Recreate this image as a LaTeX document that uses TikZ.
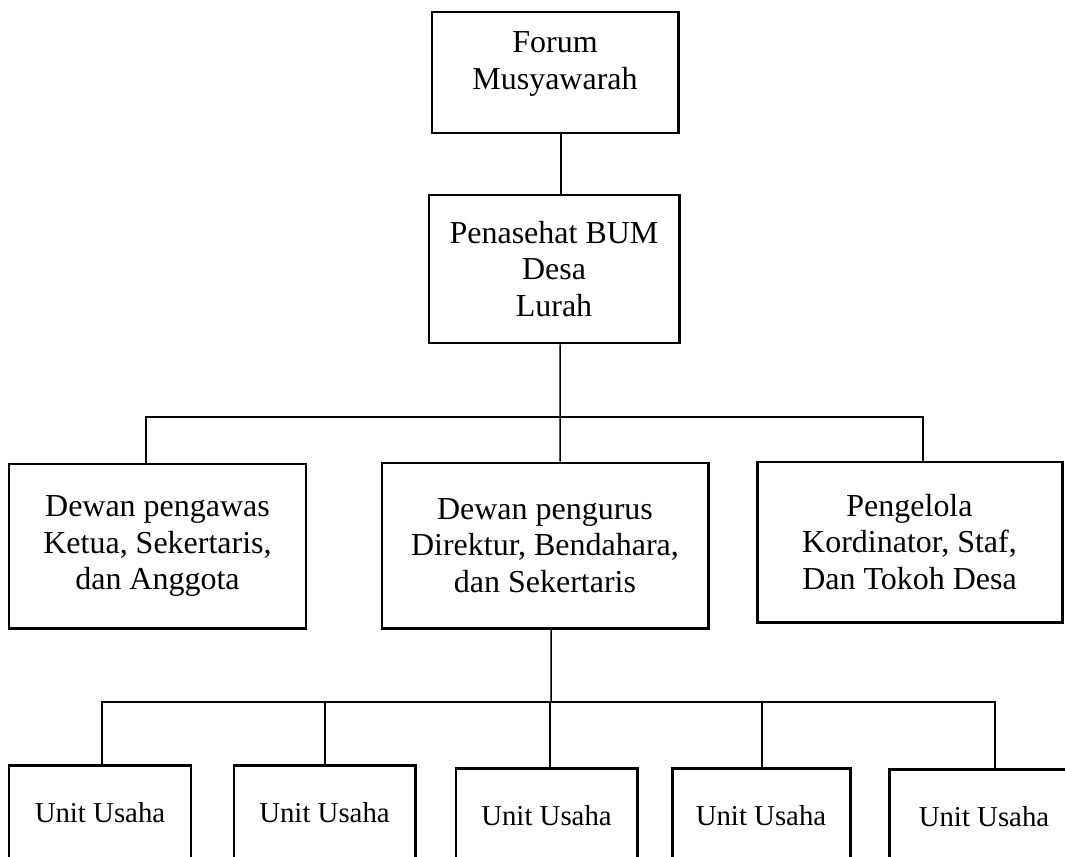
\documentclass[tikz,border=0pt]{standalone}
\usepackage{fontspec}
\setmainfont{Liberation Serif}

\begin{document}
\begin{tikzpicture}[x=0.2mm,y=-0.2mm,
  txt/.style={align=center,inner sep=0pt,font=\fontsize{18.2}{20.8}\selectfont},
  org/.style={txt,draw,line width=1.7pt},
  unit/.style={org,minimum height=19mm,font=\fontsize{16.4}{19}\selectfont},
  link/.style={line width=0.85pt}]
\useasboundingbox (0,0) rectangle (1065,857);
\clip (0,0) rectangle (1065,857);

% ---- top: forum and advisor
\node[org,minimum width=49.2mm,minimum height=24.2mm] (forum) at (555,72.5) {};
\node[txt] (forumtxt) at (555,64) {Forum\\Musyawarah};
\node[org,minimum width=50mm,minimum height=29.6mm] (penasehat) at (554,269) {Penasehat BUM\\Desa\\Lurah};
\draw[link] ([xshift=1.2mm]forum.south) -- ([xshift=1.2mm]forum.south |- penasehat.north);

% ---- middle: the three boards
\node[org,minimum width=59.4mm,minimum height=32.8mm] (pengawas) at (157.5,546) {Dewan pengawas\\Ketua, Sekertaris,\\dan Anggota};
\node[org,minimum width=65.2mm,minimum height=33mm] (pengurus) at (545,545.5) {Dewan pengurus\\Direktur, Bendahara,\\dan Sekertaris};
\node[org,minimum width=61mm,minimum height=32mm] (pengelola) at (909.5,542) {Pengelola\\Kordinator, Staf,\\Dan Tokoh Desa};
\coordinate (bus1) at (560,417);
\draw[link] ([xshift=1.2mm]penasehat.south) -- (bus1);
\draw[link] ([xshift=-2.3mm]pengawas.north) |- (bus1) -| ([xshift=2.7mm]pengelola.north);
\draw[link] (bus1) -- ([xshift=3mm]pengurus.north);

% ---- bottom: business units
\node[unit,minimum width=36.4mm] (u1) at (100,812.5) {Unit Usaha};
\node[unit,minimum width=36.2mm] (u2) at (324.5,812.5) {Unit Usaha};
\node[unit,minimum width=36.2mm] (u3) at (546.5,815.5) {Unit Usaha};
\node[unit,minimum width=35.6mm] (u4) at (761,815.5) {Unit Usaha};
\node[unit,minimum width=38mm] (u5) at (984,816.5) {Unit Usaha};
\coordinate (bus2) at (551,702);
\draw[link] ([xshift=1.2mm]pengurus.south) -- (bus2);
\draw[link] ([xshift=0.4mm]u1.north) |- (bus2) -| ([xshift=2.2mm]u5.north);
\foreach \u/\dx in {u2/0.1mm,u3/0.7mm,u4/0.2mm}
  \draw[link] ([xshift=\dx]\u.north) -- ([xshift=\dx]\u.north |- bus2);
\end{tikzpicture}
\end{document}
